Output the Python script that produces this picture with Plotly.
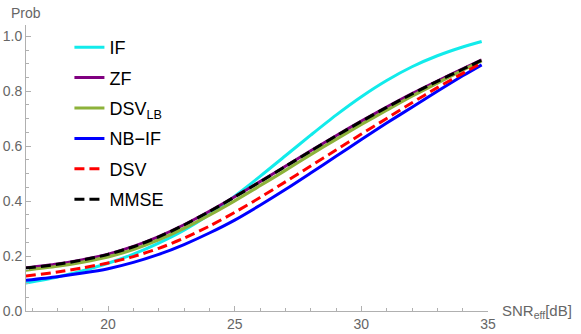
import plotly.graph_objects as go

# SNR_eff in dB
snr = [16.75, 18, 19, 20, 21, 22, 23, 24, 25, 26, 27, 28, 29, 30, 31, 32, 33, 34, 34.75]

# curves
prob_if = [0.102, 0.124, 0.147, 0.174, 0.207, 0.247, 0.294, 0.351, 0.418, 0.49, 0.565, 0.64, 0.713, 0.78, 0.839, 0.889, 0.929, 0.961, 0.981]
prob_zf = [0.157, 0.171, 0.187, 0.207, 0.235, 0.271, 0.314, 0.363, 0.416, 0.471, 0.527, 0.583, 0.638, 0.691, 0.742, 0.791, 0.837, 0.881, 0.914]
prob_dsv_lb = [0.149, 0.163, 0.178, 0.197, 0.224, 0.259, 0.301, 0.349, 0.401, 0.456, 0.512, 0.569, 0.625, 0.679, 0.731, 0.782, 0.830, 0.877, 0.911]
prob_nbif = [0.112, 0.125, 0.138, 0.154, 0.177, 0.206, 0.242, 0.284, 0.331, 0.385, 0.442, 0.502, 0.563, 0.624, 0.684, 0.742, 0.800, 0.856, 0.896]
prob_dsv = [0.127, 0.142, 0.157, 0.175, 0.198, 0.228, 0.265, 0.309, 0.359, 0.413, 0.47, 0.528, 0.586, 0.644, 0.701, 0.758, 0.813, 0.865, 0.903]
prob_mmse = [0.156, 0.170, 0.186, 0.206, 0.234, 0.270, 0.313, 0.362, 0.415, 0.470, 0.526, 0.582, 0.637, 0.690, 0.741, 0.790, 0.836, 0.880, 0.913]

series = [
    ("IF", prob_if, "#12EBEB", "solid"),
    ("ZF", prob_zf, "#800080", "solid"),
    ("DSV<sub>LB</sub>", prob_dsv_lb, "#8DB23A", "solid"),
    ("NB\u2212IF", prob_nbif, "#0000FF", "solid"),
    ("DSV", prob_dsv, "#FF0000", "10px,5px"),
    ("MMSE", prob_mmse, "#000000", "10px,5px"),
]

fig = go.Figure()
for i, (name, vals, color, dash) in enumerate(series):
    fig.add_trace(go.Scatter(
        x=snr, y=vals, mode="lines", name=name,
        legendgroup=str(i),
        line=dict(color=color, width=3 if i != 2 else 3.2, dash=dash, shape="spline", smoothing=0.8),
    ))

axis_gray = "#b0b0b0"
tick_font = dict(family="Liberation Sans, Arial, sans-serif", size=14, color="#666666")

fig.update_layout(
    width=581, height=334,
    margin=dict(l=26, r=93, t=25, b=23, autoexpand=False),
    paper_bgcolor="white", plot_bgcolor="white",
    showlegend=True,
    legend=dict(
        x=0.094, y=0.986, xanchor="left", yanchor="top",
        font=dict(family="Liberation Sans, Arial, sans-serif", size=18, color="black"),
        bgcolor="rgba(255,255,255,0)",
        tracegroupgap=4,
        itemwidth=30,
    ),
    xaxis=dict(
        range=[16.76, 35], showgrid=False, zeroline=False, automargin=False,
        showline=True, linecolor=axis_gray, linewidth=1,
        tickvals=[20, 25, 30, 35], ticks="inside", ticklen=5, tickcolor=axis_gray,
        minor=dict(dtick=1, tick0=0, ticks="inside", ticklen=3, tickcolor=axis_gray),
        tickfont=tick_font,
    ),
    yaxis=dict(
        range=[0, 1.041], showgrid=False, zeroline=False, automargin=False,
        showline=True, linecolor=axis_gray, linewidth=1,
        tickvals=[0, 0.2, 0.4, 0.6, 0.8, 1.0], tickformat=".1f",
        ticks="inside", ticklen=5, tickcolor=axis_gray,
        minor=dict(dtick=0.05, tick0=0, ticks="inside", ticklen=3, tickcolor=axis_gray),
        tickfont=tick_font,
    ),
    annotations=[
        dict(text="Prob", xref="paper", yref="paper", x=-0.036, y=1.077,
             xanchor="left", yanchor="top", showarrow=False,
             font=dict(family="Liberation Sans, Arial, sans-serif", size=14, color="#666666")),
        dict(text="SNR<sub>eff</sub>[dB]", xref="paper", yref="paper", x=1.025, y=0.0,
             xanchor="left", yanchor="middle", showarrow=False,
             font=dict(family="Liberation Sans, Arial, sans-serif", size=15, color="#666666")),
    ],
)

# drop the default 8px body margin so the figure sits at the window's corner
fig.write_html("out.html", config={"displayModeBar": False},
               post_script="document.body.style.margin = '0';")
